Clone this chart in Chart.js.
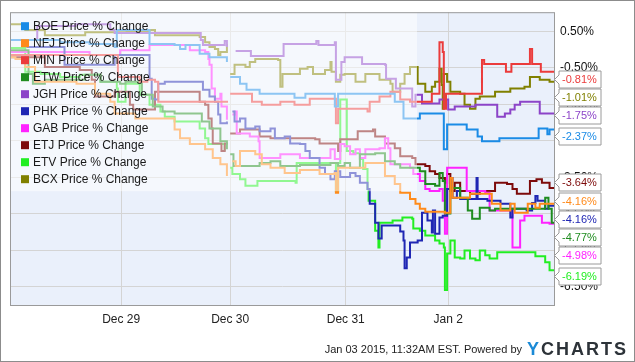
<!DOCTYPE html>
<html>
<head>
<meta charset="utf-8">
<script src="https://cdn.jsdelivr.net/npm/chart.js@4.4.1/dist/chart.umd.min.js"></script>
<style>
    html, body { margin: 0; padding: 0; background: #fff; }
    canvas { display: block; }
</style>
</head>
<body>
<canvas id="chart" width="635" height="362"></canvas>
<script>
// x = trading days since Dec 26 open, y = price % change
const xTickValues = [1.02, 2.02, 3.08, 4.02];
const xTickLabels = ["Dec 29", "Dec 30", "Dec 31", "Jan 2"];
const yTickValues = [-6.5, -5.5, -4.5, -3.5, -2.5, -1.5, -0.5, 0.5];

const seriesNames = ["BOE", "NFJ", "MIN", "ETW", "JGH", "PHK", "GAB", "ETJ", "ETV", "BCX"];
const seriesColors = ["#1a8be6", "#ff8a1a", "#eb3b3b", "#1f8c1f", "#8c44c8", "#1f26b3", "#ff22ff", "#7d0a0a", "#22ee22", "#808000"];

const boe = [[0,0.26],[0.28,0.26],[0.46,0.2],[0.73,0.15],[0.96,0.07],[0.98,0.53],[1.24,0.53],[1.28,0.15],[1.51,0.12],[1.56,0.01],[1.61,0.12],[1.74,-0.12],[1.83,-0.21],[1.93,-0.21],[1.99,-0.34],[2.01,null],[2.02,-0.75],[2.11,-0.94],[2.17,-1.1],[2.29,-1.21],[2.57,-1.21],[2.61,-1.32],[2.71,-1.21],[2.94,-1.21],[2.98,-1.56],[3.01,-1.21],[3.49,-1.21],[3.53,-1.43],[3.61,-1.89],[3.73,-1.89],[3.76,-1.75],[3.94,-1.75],[3.98,-2.73],[4.01,-2.05],[4.17,-2.05],[4.19,-2.19],[4.27,-2.19],[4.29,-2.38],[4.33,-2.51],[4.47,-2.51],[4.49,-2.43],[4.83,-2.43],[4.85,-2.16],[4.91,-2.16],[4.93,-2.32],[4.95,-2.19],[5,-2.37]];
const nfj = [[0,-0.21],[0.05,-0.26],[0.14,-0.48],[0.23,-0.88],[0.61,-0.94],[0.78,-1.21],[0.92,-1.43],[0.96,-1.75],[1.15,-1.89],[1.51,-2.19],[1.56,-2.43],[1.65,-2.59],[1.79,-2.73],[1.86,-2.97],[1.93,-3.14],[1.99,-3.46],[2.01,null],[2.04,-3.06],[2.07,-3.19],[2.11,-2.78],[2.25,-2.87],[2.31,-3.14],[2.39,-3.24],[2.52,-3.38],[2.66,-3.3],[2.84,-3.41],[2.98,-3.38],[2.99,-3.92],[3.01,-3.24],[3.26,-3.11],[3.44,-3.46],[3.53,-3.68],[3.58,-3.92],[3.67,-4.09],[3.72,-4.22],[3.76,-4.36],[3.81,-4.44],[3.99,-4.47],[4.04,-3.52],[4.06,-4.06],[4.22,-3.95],[4.4,-3.95],[4.42,-4.22],[4.5,-4.41],[4.59,-4.22],[4.63,-4.47],[4.72,-4.47],[4.75,-4.22],[4.82,-4.33],[4.86,-4.22],[5,-4.16]];
const min = [[0,-0.15],[0.83,-0.15],[0.99,-0.75],[1.19,-0.88],[1.26,-0.83],[1.33,-0.88],[1.36,-1.43],[2,-1.43],[2.01,null],[2.02,-1.21],[2.2,-1.21],[2.22,-1.43],[2.31,-1.51],[2.48,-1.43],[2.61,-1.51],[2.75,-1.35],[2.98,-1.35],[2.99,-2.02],[3.01,-1.62],[3.26,-1.62],[3.28,-1.7],[3.3,-1.43],[3.39,-1.29],[3.49,-1.16],[3.58,-1.37],[3.67,-1.43],[3.85,-1.43],[3.87,-1.21],[3.92,-1.21],[3.94,0.2],[3.97,-0.07],[3.98,-1.62],[4,-1.21],[4.31,-1.21],[4.33,-0.29],[4.35,-0.4],[4.54,-0.4],[4.55,-0.61],[4.59,-0.61],[4.6,-0.4],[4.75,-0.4],[4.77,0.01],[4.79,-0.4],[4.86,-0.4],[4.87,-0.61],[4.97,-0.61],[5,-0.81]];
const etw = [[0,-0.02],[0.14,-0.02],[0.17,-0.67],[0.21,-0.94],[0.32,-0.83],[0.61,-0.83],[0.69,-0.69],[0.83,-0.88],[1.01,-0.94],[1.06,-0.88],[1.19,-0.88],[1.21,-1.24],[1.31,-1.56],[1.4,-1.7],[1.51,-1.75],[1.74,-1.75],[1.76,-1.97],[1.83,-2.16],[1.93,-2.51],[1.99,-2.73],[2.01,null],[2.02,-2.87],[2.05,-3.19],[2.29,-3.11],[2.39,-3.06],[2.48,-3.19],[2.66,-3.16],[2.94,-3.11],[3.01,-3.19],[3.07,-3.11],[3.12,-3.24],[3.21,-2.87],[3.35,-2.84],[3.44,-3.06],[3.53,-3.14],[3.58,-3.24],[3.76,-3.33],[3.81,-3.68],[3.9,-3.73],[3.94,-3.38],[3.97,-3.6],[3.99,-4.49],[4.04,-3.79],[4.13,-4.06],[4.2,-4.41],[4.24,-4.63],[4.31,-4.33],[4.4,-4.41],[4.45,-4.36],[4.86,-4.36],[4.91,-4.06],[4.94,-4.36],[4.97,-4.74],[5,-4.77]];
const jgh = [[0,0.26],[0.23,0.26],[0.25,0.64],[0.6,0.69],[0.83,0.69],[0.92,0.53],[0.96,0.45],[1.74,0.45],[1.75,0.26],[1.77,0.12],[1.95,0.12],[1.97,0.23],[1.99,0.07],[2.01,null],[2.07,-0.04],[2.2,-0.04],[2.21,-0.18],[2.5,-0.18],[2.51,0.15],[2.8,0.15],[2.81,0.23],[2.83,0.12],[2.98,0.2],[2.99,-0.83],[3.04,-0.34],[3.07,-0.21],[3.21,-0.21],[3.23,-0.4],[3.44,-0.42],[3.45,-0.8],[3.53,-0.8],[3.54,-1.07],[3.67,-1.07],[3.69,-1.56],[3.72,-1.24],[3.76,-1.24],[3.78,-1.48],[3.94,-1.37],[4.02,-1.64],[4.08,-1.56],[4.27,-1.51],[4.45,-1.51],[4.47,-1.84],[4.54,-1.75],[4.59,-1.64],[4.63,-1.51],[4.68,-1.43],[4.82,-1.43],[4.86,-1.75],[4.97,-1.75],[5,-1.75]];
const phk = [[0,0.26],[0.14,0.26],[0.16,0.07],[0.46,0.07],[0.5,-0.42],[0.92,-0.42],[0.96,-0.15],[1.27,-0.15],[1.28,-0.8],[1.3,-1.35],[1.33,-1.37],[1.36,-0.94],[1.42,-0.88],[1.74,-0.88],[1.77,-1.1],[1.83,-1.29],[1.88,-1.43],[1.91,-1.78],[1.93,-2.02],[1.99,-1.97],[2.01,null],[2.04,-1.7],[2.06,-1.97],[2.11,-1.89],[2.16,-2.16],[2.25,-2.11],[2.29,-2.24],[2.39,-2.16],[2.43,-2.43],[2.52,-2.38],[2.57,-2.57],[2.66,-2.59],[2.71,-2.78],[2.75,-2.97],[2.83,-2.97],[2.84,-3.24],[2.89,-3.41],[2.94,-3.55],[2.98,-3.33],[3.03,-3.49],[3.12,-3.38],[3.17,-3.46],[3.21,-3.65],[3.28,-3.82],[3.3,-4.22],[3.35,-4.74],[3.38,-5.17],[3.41,-4.82],[3.53,-4.82],[3.58,-4.98],[3.61,-5.23],[3.62,-5.99],[3.64,-5.69],[3.67,-5.28],[3.74,-5.23],[3.78,-4.47],[3.81,-4.47],[3.83,-4.68],[3.87,-5.01],[3.88,-4.41],[3.9,-5.04],[3.94,-4.6],[3.97,-4.55],[4.01,-3.82],[4.04,-3.52],[4.06,-4.06],[4.1,-3.87],[4.13,-4.09],[4.22,-4.09],[4.28,-3.52],[4.29,-4.09],[4.38,-4.14],[4.5,-4.22],[4.59,-4.6],[4.61,-4.36],[4.74,-4.41],[4.79,-4.2],[4.82,-4.01],[4.84,-4.14],[4.91,-4.36],[4.94,-4.28],[5,-4.16]];
const gab = [[0,-0.07],[0.46,-0.07],[0.73,-0.15],[1.01,-0.02],[1.28,0.12],[1.62,0.12],[1.65,-0.02],[1.79,-0.07],[1.82,-0.26],[1.83,-0.42],[1.85,-1.07],[1.88,-1.35],[1.93,-1.21],[1.94,-1.56],[1.99,-1.92],[2.01,null],[2.04,-1.78],[2.06,-1.7],[2.08,-2.3],[2.2,-2.38],[2.28,-2.51],[2.29,-2.97],[2.43,-2.97],[2.48,-2.87],[2.61,-2.87],[2.66,-2.97],[2.89,-2.97],[2.94,-2.73],[2.98,-3],[3.03,-2.59],[3.07,-2.65],[3.12,-2.87],[3.17,-2.73],[3.21,-2.97],[3.26,-2.73],[3.39,-2.7],[3.44,-2.43],[3.47,-2.7],[3.49,-3.14],[3.67,-3.24],[3.7,-3.41],[3.76,-3.6],[3.81,-3.82],[3.85,-3.87],[3.94,-3.82],[3.97,-4.14],[3.99,-5.04],[4.01,-3.24],[4.17,-3.24],[4.19,-3.87],[4.36,-3.92],[4.4,-4.41],[4.59,-4.41],[4.61,-5.42],[4.66,-5.42],[4.68,-4.68],[4.72,-4.55],[4.86,-4.55],[4.88,-4.74],[4.95,-4.77],[5,-4.98]];
const etj = [[0,-0.21],[0.28,-0.21],[0.32,-0.48],[0.64,-0.56],[0.75,-0.83],[0.78,-1.29],[0.96,-1.16],[1.06,-1.16],[1.1,-1.51],[1.13,-1.64],[1.28,-1.64],[1.33,-1.16],[1.72,-1.16],[1.74,-1.43],[1.79,-1.51],[1.82,-1.89],[1.85,-2.16],[1.86,-2.57],[1.93,-2.57],[1.94,-2.78],[1.97,-2.57],[2,-2.57],[2.01,null],[2.02,-2.3],[2.11,-2.19],[2.2,-2.19],[2.29,-2.38],[2.39,-2.43],[2.8,-2.46],[2.84,-2.57],[2.98,-2.57],[3.01,-2.78],[3.03,-2.46],[3.17,-2.46],[3.19,-2.24],[3.33,-2.19],[3.35,-2.38],[3.44,-2.57],[3.53,-2.7],[3.58,-2.92],[3.69,-2.97],[3.72,-3.14],[3.81,-3.19],[3.85,-3.33],[3.9,-3.41],[3.94,-3.52],[3.99,-3.65],[4.01,-3.41],[4.04,-3.87],[4.08,-3.65],[4.13,-3.87],[4.22,-3.95],[4.31,-3.87],[4.4,-3.87],[4.45,-3.65],[4.56,-3.68],[4.61,-3.82],[4.65,-3.95],[4.72,-3.95],[4.77,-3.6],[4.83,-3.55],[4.88,-3.65],[4.95,-3.79],[5,-3.64]];
const etv = [[0,0.04],[0.09,0.04],[0.14,-0.61],[0.28,-0.67],[0.46,-0.75],[0.64,-0.69],[0.83,-0.88],[0.98,-1.07],[0.99,-1.43],[1.06,-0.94],[1.19,-1.24],[1.28,-1.51],[1.38,-1.7],[1.42,-1.84],[1.51,-1.97],[1.72,-1.97],[1.74,-2.16],[1.79,-2.43],[1.82,-2.59],[1.97,-2.78],[2.01,null],[2.02,-3.24],[2.04,-3.41],[2.11,-3.55],[2.16,-3.73],[2.25,-3.73],[2.27,-3.6],[2.62,-3.65],[2.63,-3.11],[2.98,-3.11],[2.99,-3.87],[3.01,-3.11],[3.03,-1.37],[3.08,-1.37],[3.09,-2.78],[3.15,-2.84],[3.21,-3],[3.24,-3.27],[3.28,-3.82],[3.29,-4.14],[3.33,-4.14],[3.35,-4.96],[3.38,-5.42],[3.39,-4.74],[3.51,-4.68],[3.6,-4.6],[3.69,-4.63],[3.7,-4.9],[3.76,-4.96],[3.81,-5.09],[3.9,-5.23],[3.94,-5.31],[3.98,-5.42],[3.99,-6.58],[4.01,-5.58],[4.04,-5.23],[4.08,-5.69],[4.13,-5.72],[4.17,-5.5],[4.22,-5.72],[4.27,-5.77],[4.31,-5.5],[4.36,-5.63],[4.4,-5.72],[4.47,-5.55],[4.77,-5.55],[4.82,-5.66],[4.86,-5.66],[4.91,-5.82],[4.95,-6.04],[5,-6.19]];
const bcx = [[0,0.69],[0.11,0.69],[0.14,0.53],[0.28,0.53],[0.32,0.39],[0.61,0.39],[0.69,0.47],[1.07,0.5],[1.28,0.53],[1.33,0.39],[1.74,0.34],[1.79,0.2],[1.83,0.07],[1.88,0.01],[1.91,-0.15],[1.93,-0.07],[1.99,0.15],[2.01,null],[2.02,-0.67],[2.06,-0.42],[2.16,-0.48],[2.2,-0.34],[2.25,-0.26],[2.46,-0.29],[2.48,-1.02],[2.5,-0.67],[2.63,-0.67],[2.66,-0.53],[2.73,-0.48],[2.78,-0.67],[2.89,-0.56],[2.94,-0.34],[2.95,-0.61],[2.99,-0.88],[3.03,-0.69],[3.07,-0.67],[3.17,-0.88],[3.26,-0.67],[3.35,-0.67],[3.39,-0.83],[3.49,-0.94],[3.51,-1.16],[3.58,-0.94],[3.62,-0.67],[3.67,-0.48],[3.74,-0.94],[3.81,-1.16],[3.87,-1.02],[3.9,-0.88],[3.94,-0.53],[3.96,-0.97],[3.97,-1.62],[3.98,-0.67],[4.01,-0.88],[4.04,-1.16],[4.13,-1.21],[4.17,-1.51],[4.22,-1.62],[4.27,-1.35],[4.31,-1.29],[4.45,-1.16],[4.59,-1.07],[4.72,-1.02],[4.77,-0.75],[4.86,-0.83],[4.95,-0.88],[5,-1.01]];

const seriesData = [boe, nfj, min, etw, jgh, phk, gab, etj, etv, bcx];
const footerText = "Jan 03 2015, 11:32AM EST. Powered by";

const FONT = "'Liberation Sans', Arial, sans-serif";
Chart.defaults.font.family = FONT;

const ychartsDecor = {
    id: "ychartsDecor",
    beforeDraw(chart) {
        const { ctx, chartArea: a } = chart;
        ctx.save();
        ctx.fillStyle = "#fff";
        ctx.fillRect(0, 0, chart.width, chart.height);
        ctx.fillStyle = "#eaf0fb";
        ctx.fillRect(a.left, a.top, a.right - a.left, a.bottom - a.top);
        ctx.restore();
    },
    afterDatasetsDraw(chart) {
        const { ctx, chartArea: a, scales } = chart;
        ctx.save();

        // legend sits over the plot and washes it out
        ctx.fillStyle = "rgba(255,255,255,0.5)";
        ctx.fillRect(a.left, a.top, 407, 179);
        ctx.font = "12px " + FONT;
        ctx.textBaseline = "middle";
        ctx.textAlign = "left";
        seriesNames.forEach((name, i) => {
            const cy = a.top + 14 + i * 17;
            ctx.fillStyle = seriesColors[i];
            ctx.fillRect(a.left + 11, cy - 4, 8, 8);
            ctx.fillStyle = "#1a1a1a";
            ctx.fillText(name + " Price % Change", a.left + 23, cy + 0.5);
        });

        // plot frame
        ctx.strokeStyle = "#9a9a9a";
        ctx.lineWidth = 1;
        ctx.strokeRect(a.left + 0.5, a.top + 0.5, a.right - a.left - 1, a.bottom - a.top - 1);

        // last value flags, pushed apart so they don't overlap
        const flags = chart.data.datasets.map((ds, i) => {
            const last = ds.data[ds.data.length - 1];
            return { i, value: last.y, y: scales.y.getPixelForValue(last.y) };
        }).sort((p, q) => p.y - q.y);
        let prev = -Infinity;
        flags.forEach(f => {
            f.cy = Math.max(f.y, prev + 18);
            prev = f.cy;
        });

        const bx = a.right + 4;
        ctx.font = "11px " + FONT;
        flags.forEach(f => {
            const cy = Math.round(f.cy) + 0.5;
            ctx.beginPath();
            ctx.moveTo(bx, cy - 8.5);
            ctx.lineTo(bx + 42, cy - 8.5);
            ctx.lineTo(bx + 42, cy + 8.5);
            ctx.lineTo(bx, cy + 8.5);
            ctx.lineTo(bx, cy + 4.5);
            ctx.lineTo(a.right - 0.5, cy);
            ctx.lineTo(bx, cy - 4.5);
            ctx.closePath();
            ctx.fillStyle = "#fff";
            ctx.fill();
            ctx.strokeStyle = "#9a9a9a";
            ctx.stroke();
            ctx.fillStyle = seriesColors[f.i];
            ctx.fillText(f.value.toFixed(2) + "%", bx + 3, cy + 0.5);
        });

        // footer
        ctx.textBaseline = "alphabetic";
        ctx.textAlign = "right";
        ctx.fillStyle = "#222";
        ctx.fillText(footerText, 522, 353);

        ctx.textAlign = "left";
        ctx.font = "bold 18px " + FONT;
        if ("letterSpacing" in ctx) ctx.letterSpacing = "2px";
        ctx.fillStyle = "#1b8ad6";
        ctx.fillText("Y", 527, 355);
        const yw = ctx.measureText("Y").width;
        ctx.fillStyle = "#2d3339";
        ctx.fillText("CHARTS", 527 + yw, 355);
        if ("letterSpacing" in ctx) ctx.letterSpacing = "0px";

        // outer frame
        ctx.strokeStyle = "#8c8c8c";
        ctx.strokeRect(0.5, 0.5, chart.width - 1, chart.height - 1);
        ctx.restore();
    }
};

new Chart(document.getElementById("chart"), {
    type: "line",
    data: {
        datasets: seriesData.map((pts, i) => ({
            label: seriesNames[i] + " Price % Change",
            data: pts.map(([x, y]) => ({ x, y })),
            borderColor: seriesColors[i],
            backgroundColor: seriesColors[i],
            borderWidth: 2,
            pointRadius: 0,
            stepped: true,
            spanGaps: false,
            fill: false
        }))
    },
    options: {
        responsive: false,
        animation: false,
        devicePixelRatio: 1,
        layout: { padding: { top: 10, left: 10, right: 0, bottom: 0 } },
        plugins: {
            legend: { display: false },
            tooltip: { enabled: false }
        },
        scales: {
            x: {
                type: "linear",
                min: 0,
                max: 5,
                afterBuildTicks: s => { s.ticks = xTickValues.map(v => ({ value: v })); },
                afterFit: s => { s.height = 56; },
                grid: { color: "#d4d4d4", drawTicks: false },
                border: { display: false },
                ticks: {
                    padding: 6,
                    maxRotation: 0,
                    autoSkip: false,
                    color: "#222",
                    font: { size: 12 },
                    callback: (v, i) => xTickLabels[i]
                }
            },
            y: {
                type: "linear",
                position: "right",
                min: -7.02,
                max: 1.02,
                afterBuildTicks: s => { s.ticks = yTickValues.map(v => ({ value: v })); },
                afterFit: s => { s.width = 80; },
                grid: { color: "#d4d4d4", drawTicks: false },
                border: { display: false },
                ticks: {
                    padding: 5,
                    color: "#111",
                    font: { size: 12 },
                    callback: v => v.toFixed(2) + "%"
                }
            }
        }
    },
    plugins: [ychartsDecor]
});
</script>
</body>
</html>
